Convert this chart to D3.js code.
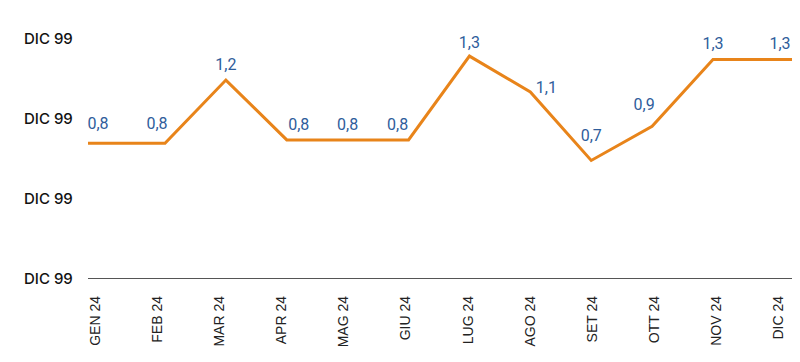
<!DOCTYPE html>
<html>
<head>
<meta charset="utf-8">
<script src="https://cdn.jsdelivr.net/npm/d3@7"></script>
<style>
  html, body { margin: 0; padding: 0; background: #fff; }
</style>
</head>
<body>
<div id="chart"></div>
<script>
// data
const months = ["GEN 24", "FEB 24", "MAR 24", "APR 24", "MAG 24", "GIU 24",
                "LUG 24", "AGO 24", "SET 24", "OTT 24", "NOV 24", "DIC 24"];
const values = [0.79, 0.79, 1.16, 0.81, 0.81, 0.81, 1.30, 1.09, 0.69, 0.89, 1.28, 1.28];
const yTicks = [0, 1.4 / 3, 2.8 / 3, 1.4];
const yTickLabels = ["DIC 99", "DIC 99", "DIC 99", "DIC 99"];

const width = 800, height = 362;
const plotLeft = 88, plotRight = 792;
const fontFamily = "Roboto, 'Noto Sans', sans-serif";

const svg = d3.select("#chart")
    .append("svg")
    .attr("width", width)
    .attr("height", height);

const yScale = d3.scaleLinear()
    .domain([0, 1.4])
    .range([278.5, 39]);

// tick labels and line points are not on quite the same grid in the original
const xLabel = d3.scalePoint()
    .domain(months)
    .range([95, 778]);

const xLine = d3.scaleLinear()
    .domain([1, months.length - 2])
    .range([165, 713]);

function lineX(i) {
    if (i === 0) return plotLeft;
    if (i === months.length - 1) return plotRight;
    return xLine(i);
}

// y labels
svg.append("g")
    .selectAll("text")
    .data(yTicks)
    .join("text")
    .attr("x", 24)
    .attr("y", d => yScale(d))
    .attr("dy", "0.35em")
    .style("font-family", "Inter, Roboto, sans-serif")
    .style("font-size", "15px")
    .style("font-weight", 500)
    .style("fill", "#111")
    .text((d, i) => yTickLabels[i]);

// baseline
svg.append("line")
    .attr("x1", plotLeft)
    .attr("x2", plotRight)
    .attr("y1", yScale(0))
    .attr("y2", yScale(0))
    .style("stroke", "#555")
    .style("stroke-width", 1);

// x labels, rotated
svg.append("g")
    .selectAll("text")
    .data(months)
    .join("text")
    .attr("transform", d => "translate(" + (xLabel(d) + 5) + ",296) rotate(-90)")
    .attr("text-anchor", "end")
    .style("font-family", "'Liberation Sans', Arial, sans-serif")
    .style("font-size", "14px")
    .style("fill", "#222")
    .text(d => d);

const valueLine = d3.line()
    .x((d, i) => lineX(i))
    .y(d => yScale(d));

svg.append("path")
    .datum(values)
    .attr("d", valueLine)
    .style("fill", "none")
    .style("stroke", "#e8841a")
    .style("stroke-width", 3)
    .style("stroke-linejoin", "miter");

// label nudges so they clear the line
const labelDx = [10, -8, 0, 12, 0, -11, 0, 16, 0, -8, 0, -12];
const labelDy = [-20, -20, -16, -16, -16, -16, -14, -5, -25, -22, -16, -16];
const formatIt = d => d3.format(".1f")(d).replace(".", ",");

svg.append("g")
    .selectAll("text")
    .data(values)
    .join("text")
    .attr("x", (d, i) => lineX(i) + labelDx[i])
    .attr("y", (d, i) => yScale(d) + labelDy[i])
    .attr("dy", "0.35em")
    .attr("text-anchor", "middle")
    .style("font-family", fontFamily)
    .style("font-size", "16px")
    .style("fill", "#2f5d9b")
    .text(formatIt);
</script>
</body>
</html>
